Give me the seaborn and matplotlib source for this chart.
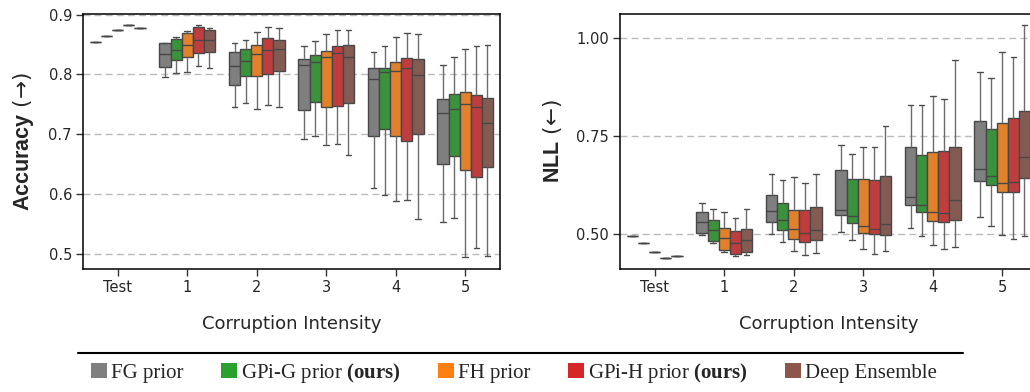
import numpy as np
import pandas as pd
import matplotlib
matplotlib.use("Agg")
import matplotlib.pyplot as plt
from matplotlib.patches import Patch
from matplotlib.lines import Line2D
import seaborn as sns

# ---------------- data ----------------
intensities = ["Test", "1", "2", "3", "4", "5"]
methods = ["FG prior", "GPi-G prior (ours)", "FH prior", "GPi-H prior (ours)", "Deep Ensemble"]
legend_labels = ["FG prior", r"GPi-G prior $\mathbf{(ours)}$", "FH prior",
                 r"GPi-H prior $\mathbf{(ours)}$", "Deep Ensemble"]
colors = ["#7f7f7f", "#2ca02c", "#ff7f0e", "#d62728", "#8c564b"]

# Test-set values (single value per method)
acc_test = [0.855, 0.8645, 0.874, 0.883, 0.878]
nll_test = [0.495, 0.4755, 0.4535, 0.439, 0.444]

# per intensity 1..5 : [whisker low, q1, median, q3, whisker high]
acc_fg = [[0.796, 0.813, 0.834, 0.852, 0.853], [0.745, 0.782, 0.814, 0.837, 0.852],
          [0.692, 0.741, 0.815, 0.826, 0.847], [0.611, 0.697, 0.793, 0.811, 0.837],
          [0.554, 0.651, 0.735, 0.759, 0.815]]
acc_gpig = [[0.802, 0.824, 0.841, 0.859, 0.862], [0.753, 0.798, 0.822, 0.842, 0.858],
            [0.697, 0.754, 0.821, 0.832, 0.856], [0.599, 0.709, 0.804, 0.811, 0.847],
            [0.561, 0.664, 0.742, 0.767, 0.829]]
acc_fh = [[0.804, 0.830, 0.849, 0.869, 0.872], [0.742, 0.798, 0.834, 0.849, 0.871],
          [0.682, 0.746, 0.830, 0.839, 0.868], [0.588, 0.698, 0.806, 0.821, 0.862],
          [0.495, 0.641, 0.751, 0.770, 0.842]]
acc_gpih = [[0.814, 0.836, 0.858, 0.880, 0.883], [0.749, 0.801, 0.841, 0.861, 0.879],
            [0.683, 0.747, 0.836, 0.848, 0.875], [0.591, 0.689, 0.811, 0.828, 0.869],
            [0.510, 0.629, 0.746, 0.766, 0.847]]
acc_de = [[0.810, 0.838, 0.857, 0.874, 0.878], [0.745, 0.805, 0.842, 0.857, 0.878],
          [0.666, 0.752, 0.829, 0.849, 0.875], [0.559, 0.701, 0.799, 0.826, 0.867],
          [0.497, 0.646, 0.719, 0.761, 0.849]]

nll_fg = [[0.497, 0.501, 0.530, 0.555, 0.5795], [0.499, 0.530, 0.558, 0.598, 0.652],
          [0.504, 0.548, 0.560, 0.662, 0.726], [0.515, 0.572, 0.593, 0.720, 0.829],
          [0.542, 0.635, 0.665, 0.786, 0.913]]
nll_gpig = [[0.476, 0.481, 0.509, 0.535, 0.562], [0.479, 0.509, 0.536, 0.577, 0.636],
            [0.484, 0.528, 0.544, 0.640, 0.704], [0.494, 0.555, 0.573, 0.701, 0.828],
            [0.519, 0.624, 0.648, 0.766, 0.898]]
nll_fh = [[0.4535, 0.459, 0.488, 0.514, 0.555], [0.456, 0.486, 0.511, 0.560, 0.645],
          [0.461, 0.501, 0.519, 0.640, 0.722], [0.470, 0.532, 0.556, 0.707, 0.852],
          [0.496, 0.606, 0.629, 0.783, 0.963]]
nll_gpih = [[0.442, 0.447, 0.476, 0.507, 0.541], [0.445, 0.479, 0.501, 0.560, 0.630],
            [0.448, 0.499, 0.512, 0.638, 0.721], [0.460, 0.530, 0.552, 0.711, 0.843],
            [0.486, 0.607, 0.633, 0.794, 0.950]]
nll_de = [[0.446, 0.453, 0.485, 0.511, 0.562], [0.450, 0.485, 0.509, 0.568, 0.653],
          [0.456, 0.497, 0.525, 0.646, 0.775], [0.466, 0.536, 0.585, 0.722, 0.942],
          [0.494, 0.642, 0.695, 0.814, 1.032]]


def build_df(test_vals, per_method):
    rows = []
    for m, tv, groups in zip(methods, test_vals, per_method):
        rows.append(("Test", m, tv))
        for lab, stats in zip(intensities[1:], groups):
            for v in stats:
                rows.append((lab, m, v))
    return pd.DataFrame(rows, columns=["intensity", "method", "value"])


df_acc = build_df(acc_test, [acc_fg, acc_gpig, acc_fh, acc_gpih, acc_de])
df_nll = build_df(nll_test, [nll_fg, nll_gpig, nll_fh, nll_gpih, nll_de])

# ---------------- style ----------------
sns.set_theme(style="ticks")
plt.rcParams["font.family"] = ["DejaVu Sans"]
plt.rcParams["mathtext.fontset"] = "custom"
plt.rcParams["mathtext.rm"] = "Liberation Serif"
plt.rcParams["mathtext.bf"] = "Liberation Serif:bold"
plt.rcParams["mathtext.sf"] = "Liberation Sans:bold"

fig = plt.figure(figsize=(10.3, 3.92), dpi=100)
W, H = 1030, 392
ax1 = fig.add_axes([83 / W, 1 - 269 / H, 417 / W, 255 / H])
ax2 = fig.add_axes([620 / W, 1 - 269 / H, 417 / W, 255 / H])

box_kw = dict(x="intensity", y="value", hue="method", order=intensities, hue_order=methods,
              palette=colors, whis=np.inf, width=0.8, linewidth=1.0, linecolor="0.28",
              legend=False,
              whiskerprops=dict(color="0.42"), capprops=dict(color="0.3"))

sns.boxplot(data=df_acc, ax=ax1, **box_kw)
sns.boxplot(data=df_nll, ax=ax2, **box_kw)

for ax, ylim, yticks, fmt, ylabel in [
        (ax1, (0.475, 0.901), [0.5, 0.6, 0.7, 0.8, 0.9], "{:.1f}", r"$\mathsf{Accuracy}$ (→)"),
        (ax2, (0.410, 1.060), [0.50, 0.75, 1.00], "{:.2f}", r"$\mathsf{NLL}$ (←)")]:
    ax.set_xlim(-0.5, 5.5)
    ax.set_ylim(*ylim)
    ax.set_yticks(yticks)
    ax.set_yticklabels([fmt.format(t) for t in yticks], fontsize=10.5)
    ax.set_xticks(range(len(intensities)))
    ax.set_xticklabels(intensities, fontsize=10.5)
    ax.yaxis.grid(True, linestyle=(0, (5, 3)), color="#bbbbbb", linewidth=1.0)
    ax.set_axisbelow(True)
    ax.set_xlabel("Corruption Intensity", fontsize=13, labelpad=14)
    ax.set_ylabel(ylabel, fontsize=15.5, family=["DejaVu Sans"], labelpad=9)
    for s in ax.spines.values():
        s.set_visible(True)
        s.set_color("black")
        s.set_linewidth(1.1)
    ax.tick_params(axis="both", direction="out", length=5, width=1.0, color="0.2", pad=3)

# legend with separator line
fig.add_artist(Line2D([78 / W, 963 / W], [1 - 352.7 / H, 1 - 352.7 / H],
                      color="black", linewidth=1.5, transform=fig.transFigure))
handles = [Patch(facecolor=c, edgecolor="none") for c in colors]
fig.legend(handles, legend_labels, loc="center", bbox_to_anchor=(514 / W, 1 - 373 / H),
           ncol=5, frameon=False, prop={"family": "Liberation Serif", "size": 15},
           handlelength=0.75, handleheight=0.7, handletextpad=0.2, columnspacing=1.8,
           borderaxespad=0, borderpad=0)

fig.savefig("out.png", dpi=100)
